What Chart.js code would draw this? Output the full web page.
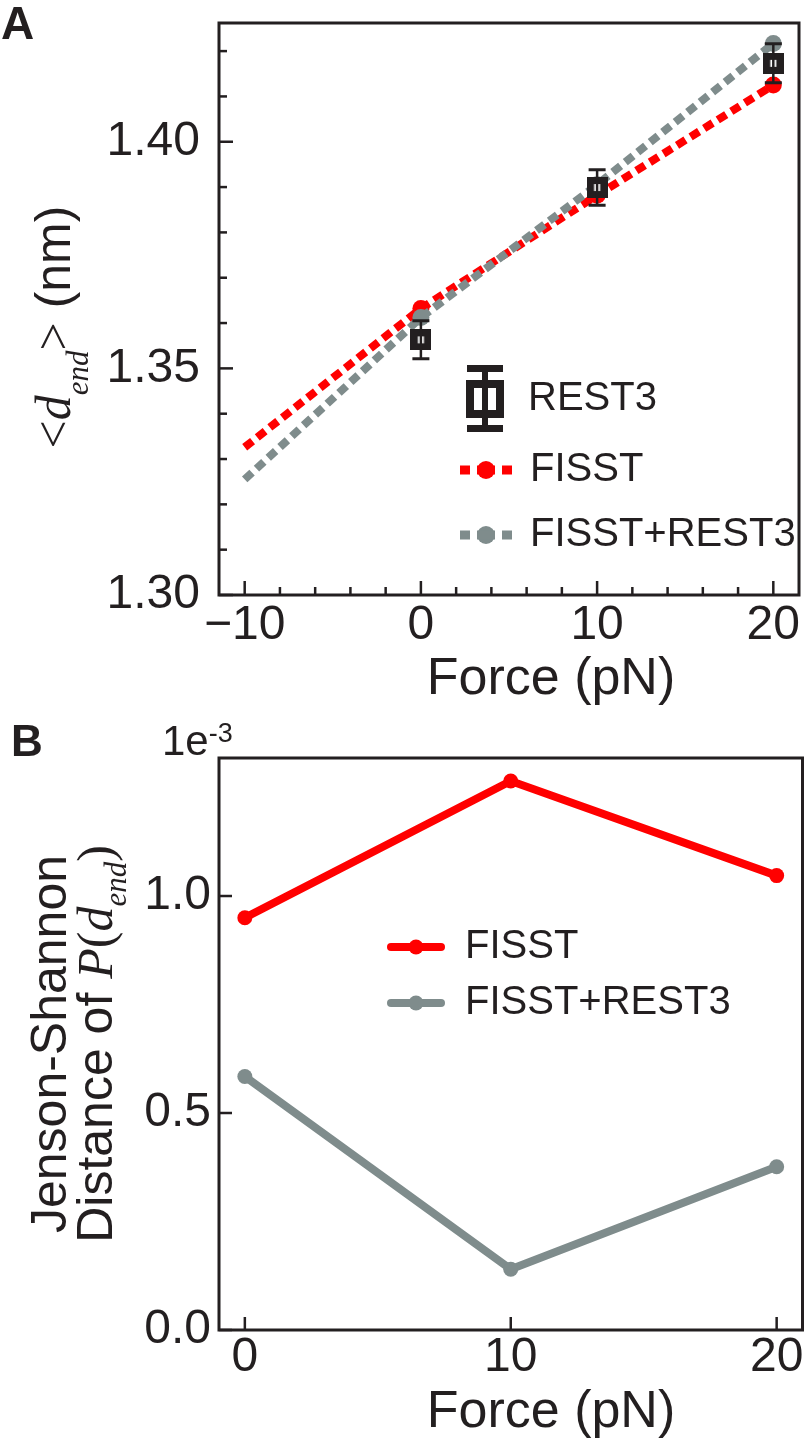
<!DOCTYPE html>
<html>
<head>
<meta charset="utf-8">
<script src="https://cdn.jsdelivr.net/npm/chart.js@4.4.1/dist/chart.umd.min.js"></script>
<style>
  html, body { margin: 0; padding: 0; background: #fff; }
  #wrap { position: relative; width: 810px; height: 1443px; }
  canvas { position: absolute; left: 0; }
  #chartA { top: 0; }
  #chartB { top: 710px; }
</style>
</head>
<body>
<div id="wrap">
  <canvas id="chartA" width="810" height="710"></canvas>
  <canvas id="chartB" width="810" height="733"></canvas>
</div>
<script>
// Colours and fonts
const ink = '#231f20';
const red = '#ff0000';
const grey = '#7f8c8c';
const sans = '"Liberation Sans", Arial, sans-serif';
const serif = '"Liberation Serif", "Times New Roman", serif';

// Panel A data
const forceA = [-10, 0, 10, 20];
const fisstA = [1.3326, 1.3632, 1.3882, 1.4125];
const comboA = [1.3255, 1.3612, 1.3905, 1.4217];
const forceRest = [0, 10, 20];
const rest3A = [1.3563, 1.3899, 1.4173];
const rest3Err = [0.0042, 0.0039, 0.0043];
const xTicksA = [-10, 0, 10, 20];
const xMinorA = [-8, -6, -4, -2, 2, 4, 6, 8, 12, 14, 16, 18];
const yTicksA = [1.30, 1.35, 1.40];
const yMinorA = [1.31, 1.32, 1.33, 1.34, 1.36, 1.37, 1.38, 1.39, 1.41, 1.42];

// Panel B data (units of 1e-3)
const forceB = [0, 10, 20];
const fisstB = [0.95, 1.265, 1.047];
const comboB = [0.584, 0.14, 0.376];
const xTicksB = [0, 10, 20];
const yTicksB = [0.0, 0.5, 1.0];

Chart.defaults.font.family = sans;
Chart.defaults.color = ink;

const pts = (xs, ys) => xs.map((x, i) => ({ x, y: ys[i] }));
const minusLabel = v => (v < 0 ? '\u2212' + Math.abs(v) : String(v));

// fixed scale sizes, no extra padding from overhanging labels
function fixSize(w, h) {
    return s => {
        if (w) s.width = w;
        if (h) s.height = h;
        s.paddingTop = 0; s.paddingBottom = 0; s.paddingLeft = 0; s.paddingRight = 0;
    };
}

// REST3 square marker (used as pointStyle)
function squareMarker() {
    const c = document.createElement('canvas');
    c.width = 21; c.height = 21;
    const g = c.getContext('2d');
    g.fillStyle = ink;
    g.fillRect(0, 0, 21, 21);
    g.fillStyle = '#fff';
    g.fillRect(7.5, 7, 6, 7);
    return c;
}

// box round the plot and inward ticks
const frameTicks = {
    id: 'frameTicks',
    afterDraw(chart, args, o) {
        const { ctx, chartArea: a, scales: { x, y } } = chart;
        ctx.save();
        ctx.strokeStyle = ink;
        ctx.lineWidth = 2.5;
        const seg = (x1, y1, x2, y2) => { ctx.beginPath(); ctx.moveTo(x1, y1); ctx.lineTo(x2, y2); ctx.stroke(); };
        o.xMajor.forEach(v => { const p = x.getPixelForValue(v); seg(p, a.bottom, p, a.bottom - o.majorLen); });
        o.xMinor.forEach(v => { const p = x.getPixelForValue(v); seg(p, a.bottom, p, a.bottom - o.minorLen); });
        o.yMajor.forEach(v => { const p = y.getPixelForValue(v); seg(a.left, p, a.left + o.majorLen, p); });
        o.yMinor.forEach(v => { const p = y.getPixelForValue(v); seg(a.left, p, a.left + o.minorLen, p); });
        ctx.lineWidth = 3;
        ctx.strokeRect(a.left, a.top, a.right - a.left, a.bottom - a.top);
        ctx.restore();
    }
};

// rotated text made of several runs
function drawRotated(ctx, parts, bx, cy) {
    ctx.save();
    ctx.translate(bx, cy);
    ctx.rotate(-Math.PI / 2);
    ctx.textBaseline = 'alphabetic';
    ctx.textAlign = 'left';
    ctx.fillStyle = ink;
    let total = 0;
    parts.forEach(p => { ctx.font = p.font; p.w = ctx.measureText(p.text).width; total += p.w; });
    let x = -total / 2;
    parts.forEach(p => { ctx.font = p.font; ctx.fillText(p.text, x, p.dy || 0); x += p.w; });
    ctx.restore();
}

function text(ctx, str, x, y, font, align, base) {
    ctx.font = font;
    ctx.fillStyle = ink;
    ctx.textAlign = align || 'left';
    ctx.textBaseline = base || 'middle';
    ctx.fillText(str, x, y);
}

// Panel A
const errorBars = {
    id: 'errorBars',
    afterDatasetsDraw(chart) {
        const { ctx, scales: { x, y } } = chart;
        ctx.save();
        ctx.strokeStyle = ink;
        forceRest.forEach((f, i) => {
            const px = x.getPixelForValue(f);
            const top = y.getPixelForValue(rest3A[i] + rest3Err[i]);
            const bot = y.getPixelForValue(rest3A[i] - rest3Err[i]);
            ctx.lineWidth = 2.5;
            ctx.beginPath(); ctx.moveTo(px, top); ctx.lineTo(px, bot); ctx.stroke();
            ctx.lineWidth = 3;
            ctx.beginPath();
            ctx.moveTo(px - 8.5, top); ctx.lineTo(px + 8.5, top);
            ctx.moveTo(px - 8.5, bot); ctx.lineTo(px + 8.5, bot);
            ctx.stroke();
        });
        ctx.restore();
    }
};

const decorA = {
    id: 'decorA',
    afterDraw(chart) {
        const ctx = chart.ctx;
        ctx.save();
        text(ctx, 'A', 1, 39, 'bold 46px ' + sans, 'left', 'alphabetic');
        text(ctx, 'Force (pN)', 551, 680, '52px ' + sans, 'center');
        drawRotated(ctx, [
            { text: '<', font: '50px ' + serif },
            { text: 'd', font: 'italic 50px ' + serif },
            { text: 'end', font: 'italic 31px ' + serif, dy: 18 },
            { text: '>', font: '50px ' + serif },
            { text: ' (nm)', font: '50px ' + sans }
        ], 70, 327);

        // legend
        const ds = chart.data.datasets;
        // REST3 entry
        const mx = 485, my = 399;
        ctx.fillStyle = ink;
        ctx.fillRect(mx - 19, my - 19, 38, 38);
        ctx.fillStyle = '#fff';
        ctx.fillRect(mx - 11, my - 11, 22, 22);
        ctx.fillStyle = ink;
        ctx.fillRect(mx - 3, 365, 6, 67);
        ctx.fillRect(mx - 18, 365, 36, 7);
        ctx.fillRect(mx - 18, 425, 36, 7);
        text(ctx, ds[0].label, 528, my, '40px ' + sans);
        // dashed entries
        [[ds[2], 470], [ds[1], 535]].forEach(([d, ly]) => {
            ctx.fillStyle = d.borderColor;
            ctx.fillRect(460, ly - 4.5, 10, 9);
            ctx.fillRect(502, ly - 4.5, 10, 9);
            ctx.beginPath(); ctx.arc(486, ly, 9, 0, Math.PI * 2); ctx.fill();
            ctx.fillRect(477, ly - 4.5, 18, 9);
            text(ctx, d.label, 530, ly, '40px ' + sans);
        });
        ctx.restore();
    }
};

new Chart(document.getElementById('chartA'), {
    type: 'line',
    data: {
        datasets: [
            {
                label: 'REST3',
                data: pts(forceRest, rest3A),
                showLine: false,
                pointStyle: squareMarker(),
                pointRadius: 10,
                borderColor: ink,
                backgroundColor: ink
            },
            {
                label: 'FISST+REST3',
                data: pts(forceA, comboA),
                borderColor: grey,
                backgroundColor: grey,
                borderWidth: 8,
                borderDash: [10, 6],
                pointRadius: [0, 8.5, 8.5, 8.5],
                pointBorderWidth: 0,
                tension: 0
            },
            {
                label: 'FISST',
                data: pts(forceA, fisstA),
                borderColor: red,
                backgroundColor: red,
                borderWidth: 8,
                borderDash: [10, 6],
                pointRadius: [0, 8.5, 8.5, 8.5],
                pointBorderWidth: 0,
                tension: 0
            }
        ]
    },
    options: {
        responsive: false,
        animation: false,
        events: [],
        layout: { padding: { top: 23, right: 3, left: 0, bottom: 0 } },
        plugins: {
            legend: { display: false },
            tooltip: { enabled: false },
            frameTicks: { xMajor: xTicksA, xMinor: xMinorA, yMajor: yTicksA, yMinor: yMinorA, majorLen: 14, minorLen: 8 }
        },
        scales: {
            x: {
                type: 'linear',
                min: -11.458,
                max: 21.458,
                grid: { display: false, drawTicks: false },
                border: { display: false },
                afterBuildTicks: s => { s.ticks = xTicksA.map(v => ({ value: v })); },
                afterFit: fixSize(0, 115),
                ticks: { autoSkip: false, maxRotation: 0, padding: 7, font: { size: 48, lineHeight: 1 }, callback: minusLabel }
            },
            y: {
                type: 'linear',
                min: 1.30,
                max: 1.4262,
                grid: { display: false, drawTicks: false },
                border: { display: false },
                afterBuildTicks: s => { s.ticks = yTicksA.map(v => ({ value: v })); },
                afterFit: fixSize(219, 0),
                ticks: { autoSkip: false, padding: 19, font: { size: 48, lineHeight: 1 }, callback: v => v.toFixed(2) }
            }
        }
    },
    plugins: [frameTicks, errorBars, decorA]
});

// Panel B
const decorB = {
    id: 'decorB',
    afterDraw(chart) {
        const ctx = chart.ctx;
        ctx.save();
        text(ctx, 'B', 11, 46, 'bold 44px ' + sans, 'left', 'alphabetic');
        ctx.font = '42px ' + sans;
        const w1e = ctx.measureText('1e').width;
        text(ctx, '1e', 162, 45, '42px ' + sans, 'left', 'alphabetic');
        text(ctx, '-3', 162 + w1e, 32, '27px ' + sans, 'left', 'alphabetic');
        text(ctx, 'Force (pN)', 551, 703, '52px ' + sans, 'center');
        drawRotated(ctx, [{ text: 'Jenson-Shannon', font: '50px ' + sans }], 66, 334);
        drawRotated(ctx, [
            { text: 'Distance of ', font: '50px ' + sans },
            { text: 'P', font: 'italic 50px ' + serif },
            { text: '(', font: '50px ' + serif },
            { text: 'd', font: 'italic 50px ' + serif },
            { text: 'end', font: 'italic 31px ' + serif, dy: 14 },
            { text: ')', font: '50px ' + serif }
        ], 112, 334);

        // legend
        const ds = chart.data.datasets;
        [[ds[1], 237], [ds[0], 293]].forEach(([d, ly]) => {
            ctx.strokeStyle = d.borderColor;
            ctx.fillStyle = d.borderColor;
            ctx.lineWidth = 8;
            ctx.lineCap = 'round';
            ctx.beginPath(); ctx.moveTo(391, ly); ctx.lineTo(441, ly); ctx.stroke();
            ctx.beginPath(); ctx.arc(416, ly, 7.5, 0, Math.PI * 2); ctx.fill();
            text(ctx, d.label, 465, ly, '40px ' + sans);
        });
        ctx.restore();
    }
};

new Chart(document.getElementById('chartB'), {
    type: 'line',
    data: {
        datasets: [
            {
                label: 'FISST+REST3',
                data: pts(forceB, comboB),
                borderColor: grey,
                backgroundColor: grey,
                borderWidth: 8,
                borderCapStyle: 'round',
                pointRadius: 7.5,
                pointBorderWidth: 0,
                tension: 0
            },
            {
                label: 'FISST',
                data: pts(forceB, fisstB),
                borderColor: red,
                backgroundColor: red,
                borderWidth: 8,
                borderCapStyle: 'round',
                pointRadius: 7.5,
                pointBorderWidth: 0,
                tension: 0
            }
        ]
    },
    options: {
        responsive: false,
        animation: false,
        events: [],
        layout: { padding: { top: 48, right: 3, left: 0, bottom: 0 } },
        plugins: {
            legend: { display: false },
            tooltip: { enabled: false },
            frameTicks: { xMajor: xTicksB, xMinor: [], yMajor: yTicksB, yMinor: [], majorLen: 13, minorLen: 8 }
        },
        scales: {
            x: {
                type: 'linear',
                min: -0.972,
                max: 20.972,
                grid: { display: false, drawTicks: false },
                border: { display: false },
                afterBuildTicks: s => { s.ticks = xTicksB.map(v => ({ value: v })); },
                afterFit: fixSize(0, 113),
                ticks: { autoSkip: false, maxRotation: 0, padding: 4, font: { size: 48, lineHeight: 1 }, callback: minusLabel }
            },
            y: {
                type: 'linear',
                min: 0,
                max: 1.318,
                grid: { display: false, drawTicks: false },
                border: { display: false },
                afterBuildTicks: s => { s.ticks = yTicksB.map(v => ({ value: v })); },
                afterFit: fixSize(219, 0),
                ticks: { autoSkip: false, padding: 8, font: { size: 48, lineHeight: 1 }, callback: v => v.toFixed(1) }
            }
        }
    },
    plugins: [frameTicks, decorB]
});
</script>
</body>
</html>
